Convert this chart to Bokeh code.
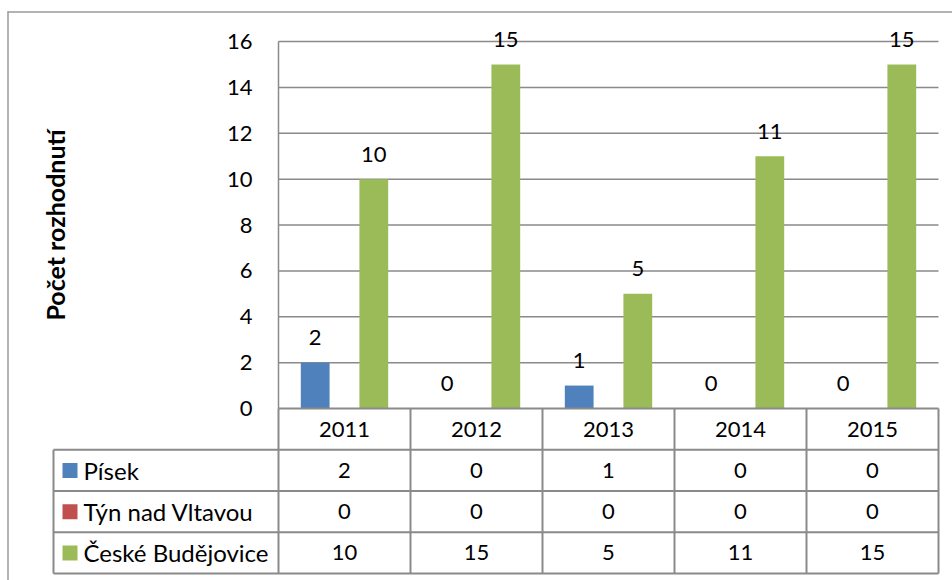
from bokeh.plotting import figure
from bokeh.models import Range1d, LinearAxis, FixedTicker
from bokeh.core.properties import value
from bokeh.embed import file_html
from bokeh.resources import INLINE

# ---------------- data ----------------
years = ["2011", "2012", "2013", "2014", "2015"]
series_names = ["Písek", "Týn nad Vltavou", "České Budějovice"]
pisek = [2, 0, 1, 0, 0]
tyn = [0, 0, 0, 0, 0]
ceske_budejovice = [10, 15, 5, 11, 15]
y_ticks = [0, 2, 4, 6, 8, 10, 12, 14, 16]
y_title = "Počet rozhodnutí"

series = [pisek, tyn, ceske_budejovice]
labelled = [True, False, True]

# ---------------- styles / layout ----------------
colors = ["#4F81BD", "#C0504D", "#9BBB59"]
FONT = "Lato"
FS = "22px"
FS_NAMES = "24px"
GRID = "#8a8a8a"
TABLE = "#8a8a8a"
BORDER = "#9a9a9a"

W, H = 952, 580          # canvas size
X0 = 278                 # canvas px of the category origin
CAT = 132                # px per category
Y0 = 408                 # canvas px of value 0
UNIT = 367 / y_ticks[-1] # px per value unit
ROW = 41.25              # px per table row
BAR_W = 0.218
OFFS = [-0.222, 0.0, 0.222]
LEG_L = 53               # left edge of the legend column (px)


def xd(px):
    return (px - X0) / CAT


def yd(px):
    return (Y0 - px) / UNIT


n = len(years)
p = figure(width=W, height=H,
           x_range=Range1d(xd(0), xd(W)),
           y_range=Range1d(yd(H), yd(0)),
           x_axis_type=None, y_axis_type=None,
           output_backend="svg", toolbar_location=None,
           min_border=0, min_border_left=0, min_border_right=0,
           min_border_top=0, min_border_bottom=0)
p.outline_line_color = None
p.background_fill_color = "white"
p.border_fill_color = "white"
p.extra_y_ranges = {"tbl": Range1d((H - Y0) / ROW, -Y0 / ROW)}

# outer chart border (left and top only are visible)
p.segment(x0=[xd(7.5)], x1=[xd(7.5)], y0=[yd(11)], y1=[yd(H)],
          line_color=BORDER, line_width=1.5)
p.segment(x0=[xd(7)], x1=[xd(W)], y0=[yd(11.5)], y1=[yd(11.5)],
          line_color=BORDER, line_width=1.5)

# horizontal gridlines
gt = y_ticks[1:]
p.segment(x0=[0] * len(gt), x1=[n] * len(gt), y0=gt, y1=gt,
          line_color=GRID, line_width=1.5)

# bars and data labels
for vals, col, off, lab in zip(series, colors, OFFS, labelled):
    xs = [i + 0.5 + off for i in range(n)]
    p.vbar(x=xs, top=vals, bottom=0, width=BAR_W,
           fill_color=col, line_color=None)
    if lab:
        p.text(x=xs, y=vals, text=[str(v) for v in vals], y_offset=-25,
               text_align="center", text_baseline="middle",
               text_font=value(FONT), text_font_size=FS, text_color="black")

# data table lines
p.segment(x0=[0] + [xd(LEG_L)] * 4, x1=[n] * 5, y0=[0, 1, 2, 3, 4], y1=[0, 1, 2, 3, 4],
          line_color=TABLE, line_width=2, y_range_name="tbl")
p.segment(x0=list(range(n + 1)) + [xd(LEG_L)], x1=list(range(n + 1)) + [xd(LEG_L)],
          y0=[0] * (n + 1) + [1], y1=[4] * (n + 2),
          line_color=TABLE, line_width=2, y_range_name="tbl")

# legend keys and series names in the table
rows = [1.5, 2.5, 3.5]
p.rect(x=[xd(69.5)] * 3, y=rows, width=15, height=15,
       width_units="screen", height_units="screen",
       fill_color=colors, line_color=None, y_range_name="tbl")
p.text(x=[xd(83)] * 3, y=rows, text=series_names,
       text_align="left", text_baseline="middle",
       text_font=value(FONT), text_font_size=FS_NAMES, text_color="black",
       y_range_name="tbl")

# table values
for r, vals in zip(rows, series):
    p.text(x=[i + 0.5 for i in range(n)], y=[r] * n, text=[str(v) for v in vals],
           text_align="center", text_baseline="middle",
           text_font=value(FONT), text_font_size=FS, text_color="black",
           y_range_name="tbl")

# value axis
yaxis = LinearAxis(fixed_location=0, ticker=FixedTicker(ticks=y_ticks),
                   bounds=(y_ticks[0], y_ticks[-1]), axis_label=y_title)
yaxis.axis_line_color = GRID
yaxis.axis_line_width = 1.5
yaxis.major_tick_line_color = None
yaxis.minor_tick_line_color = None
yaxis.major_tick_out = 0
yaxis.major_tick_in = 0
yaxis.major_label_standoff = 26
yaxis.major_label_text_font = FONT
yaxis.major_label_text_font_size = FS
yaxis.major_label_text_color = "black"
yaxis.axis_label_standoff = 154
yaxis.axis_label_text_font = FONT
yaxis.axis_label_text_font_size = "25px"
yaxis.axis_label_text_font_style = "bold"
yaxis.axis_label_text_color = "black"
p.add_layout(yaxis, "left")

# category axis (header row of the data table)
centers = [i + 0.5 for i in range(n)]
xaxis = LinearAxis(fixed_location=0, ticker=FixedTicker(ticks=centers),
                   major_label_overrides={c: y for c, y in zip(centers, years)})
xaxis.axis_line_color = None
xaxis.major_tick_line_color = None
xaxis.minor_tick_line_color = None
xaxis.major_tick_out = 0
xaxis.major_tick_in = 0
xaxis.major_label_standoff = 13
xaxis.major_label_text_font = FONT
xaxis.major_label_text_font_size = FS
xaxis.major_label_text_color = "black"
p.add_layout(xaxis, "below")

open("out.html", "w").write(file_html(p, INLINE))
